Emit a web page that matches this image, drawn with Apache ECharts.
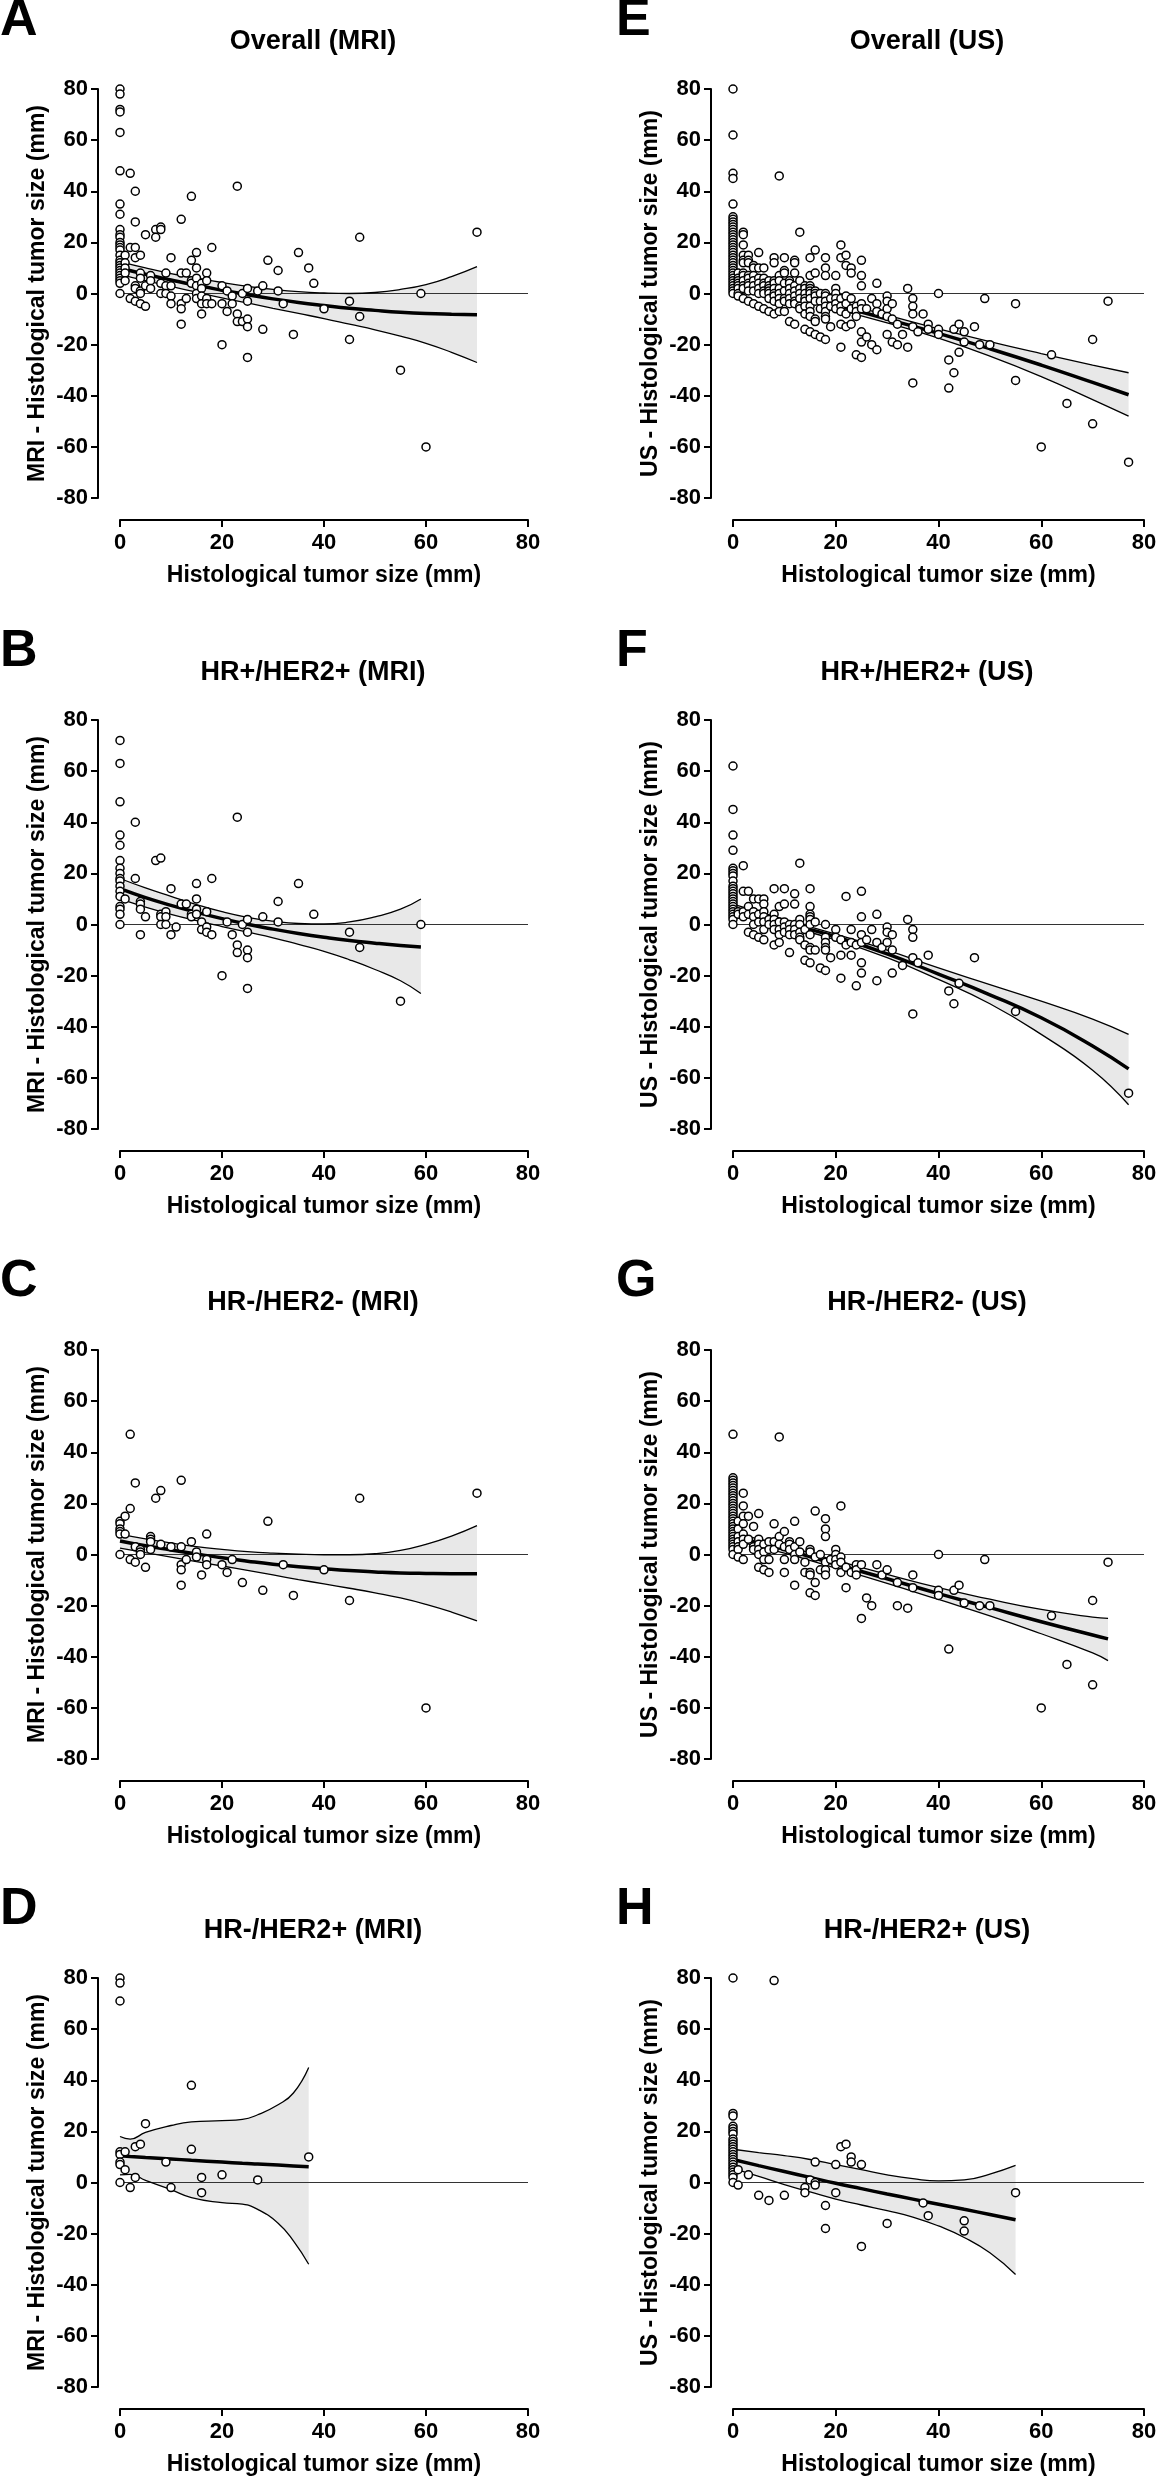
<!DOCTYPE html>
<html>
<head>
<meta charset="utf-8">
<title>Tumor size difference vs histological size</title>
<script src="https://cdn.jsdelivr.net/npm/echarts@6/dist/echarts.min.js"></script>
<style>
  html, body { margin: 0; padding: 0; background: #fff; }
  #chart { width: 1156px; height: 2481px; }
</style>
</head>
<body>
<div id="chart"></div>
<script>
// points: [histological size, [differences at that size]]
const ptsA = [[0,[80,78,72,71,63,48,35,31,25,23,22,20,19,18,17,15,13,12,11,10,9,8,7,6,5,4,0]],
  [1,[15,12,10,8,5]],[2,[47,18,-2]],[3,[40,28,18,14,3,2,-3]],[4,[15,8,6,1,0,-4]],[5,[23,3,-5]],
  [6,[7,5,2]],[7,[25,22]],[8,[26,25,4,0]],[9,[8,3,0]],[10,[14,3,-1,-4]],[12,[29,8,-4,-6,-12]],
  [13,[8,-2]],[14,[38,13,5,4]],[15,[16,10,6,3,0,-2]],[16,[4,2,-1,-4,-8]],[17,[8,5,-2,-4]],
  [18,[18,-4]],[20,[3,-4,-20]],[21,[1,-7]],[22,[-1,-4]],[23,[42,-8,-11]],[24,[0,-11]],
  [25,[2,-3,-10,-13,-25]],[27,[1]],[28,[3,-14]],[29,[13]],[31,[9,1]],[32,[-4]],[34,[-16]],
  [35,[16]],[37,[10]],[38,[4]],[40,[-6]],[45,[-3,-18]],[47,[22,-9]],[55,[-30]],[59,[0]],
  [60,[-60]],[70,[24]]];
const ptsB = [[0,[72,63,48,35,31,25,22,20,18,17,15,13,11,7,6,4,0]],
  [1,[10]],[3,[40,18]],[4,[9,8,6,-4]],[5,[3]],[7,[25]],[8,[26,4,3,0]],[9,[5,3,0]],[10,[14,-4]],
  [11,[-1]],[12,[8]],[13,[8]],[14,[4,3]],[15,[16,10,6,4]],[16,[1,-2]],[17,[5,-1,-3]],[18,[18,-4]],
  [20,[-20]],[21,[1]],[22,[-4]],[23,[42,-8,-11]],[24,[0]],[25,[2,-3,-10,-13,-25]],[28,[3]],
  [31,[9,1]],[35,[16]],[38,[4]],[45,[-3]],[47,[-9]],[55,[-30]],[59,[0]]];
const ptsC = [[0,[13,12,10,9,8,0]],[1,[15,8]],[2,[47,18,-2]],[3,[28,3,-3]],[4,[2,1,0]],[5,[-5]],
  [6,[7,6,5,2]],[7,[22]],[8,[25,4]],[10,[3]],[12,[29,3,-4,-6,-12]],[13,[-2]],[14,[5]],[15,[1,-1]],
  [16,[-8]],[17,[8,-2,-4]],[20,[-4]],[21,[-7]],[22,[-2]],[24,[-11]],[28,[-14]],[29,[13]],[32,[-4]],
  [34,[-16]],[40,[-6]],[45,[-18]],[47,[22]],[60,[-60]],[70,[24]]];
const ptsD = [[0,[80,78,71,12,11,8,7,0]],[1,[12,5]],[2,[-2]],[3,[14,2]],[4,[15]],[5,[23]],[9,[8]],
  [10,[-2]],[14,[38,13]],[16,[2,-4]],[20,[3]],[27,[1]],[37,[10]]];
const ptsE = [[0,[80,62,47,45,35,30,29,28,27,26,25,24,23,22,21,20,19,18,17,16,15,14,13,12,11,10,9,8,7,6,5,4,3,2,1,0]],
  [1,[8,6,5,4,3,2,0,-1]],[2,[24,23,19,15,13,12,8,7,5,3,2,-2]],[3,[15,13,12,7,6,4,3,1,-3]],
  [4,[11,10,7,5,3,1,-4]],[5,[16,10,6,4,2,0,-5]],[6,[10,6,4,3,1,0,-6]],[7,[5,3,2,1,0,-2,-7]],
  [8,[14,12,5,4,2,0,-1,-3,-8]],[9,[46,7,5,2,0,-2,-4,-7]],[10,[14,9,8,4,1,-2,-3,-7]],
  [11,[5,4,2,0,-2,-4,-11]],[12,[13,12,8,3,1,-1,-3,-4,-12]],[13,[24,5,2,0,-2,-5,-6]],
  [14,[3,2,0,-2,-3,-5,-8,-14]],[15,[14,7,3,2,1,0,-2,-5,-7,-9,-15]],[16,[17,8,1,0,-1,-3,-10,-11,-16]],
  [17,[0,-3,-6,-17]],[18,[14,10,7,0,-1,-3,-5,-7,-9,-10,-18]],[19,[-2,-5,-13]],[20,[7,2,0,-2,-4,-6]],
  [21,[19,14,-2,-5,-7,-12,-21]],[22,[15,11,-1,-4,-8,-13]],[23,[10,8,-2,-6,-12]],[24,[-5,-7,-9,-24]],
  [25,[13,7,3,-4,-6,-15,-19,-25]],[26,[-6,-17]],[27,[-2,-20]],[28,[4,-4,-7,-22]],[29,[-8]],
  [30,[-1,-3,-6,-9,-16]],[31,[-4,-10,-19]],[32,[-12,-20]],[33,[-16]],[34,[2,-21]],
  [35,[-2,-5,-8,-13,-35]],[36,[-15]],[37,[-8]],[38,[-12,-14]],[40,[0,-14,-16]],[42,[-26,-37]],
  [43,[-14,-31]],[44,[-12,-23]],[45,[-15,-19]],[47,[-13]],[48,[-20]],[49,[-2]],[50,[-20]],
  [55,[-4,-34]],[60,[-60]],[62,[-24]],[65,[-43]],[70,[-18,-51]],[73,[-3]],[77,[-66]]];
const ptsF = [[0,[62,45,35,29,22,21,20,19,17,15,14,13,12,11,10,9,8,7,6,5,4,3,2,0]],
  [1,[5,4]],[2,[23,13,5,3]],[3,[13,7,4,-3]],[4,[10,5,3,0,-4]],[5,[10,4,1,-5]],[6,[10,8,5,3,1,-2,-6]],
  [7,[2,0]],[8,[14,4,2,0,-2,-8]],[9,[7,1,-2,-4,-7]],[10,[14,8,1,-1,-3]],[11,[0,-2,-4,-11]],
  [12,[12,8,0,-2,-4]],[13,[24,2,0,-3,-5,-6]],[14,[-2,-8,-14]],[15,[14,7,4,3,2,0,-4,-9,-10,-15]],
  [16,[1,-10]],[17,[-17]],[18,[0,-5,-7,-9,-10,-18]],[19,[-13]],[20,[-2,-5]],[21,[-6,-12,-21]],
  [22,[11,-8]],[23,[-2,-7,-12]],[24,[-8,-24]],[25,[13,3,-4,-7,-15,-19]],[26,[-6]],[27,[-2]],
  [28,[4,-7,-22]],[29,[-9]],[30,[-1,-3,-7]],[31,[-4,-10,-19]],[33,[-16]],[34,[2]],
  [35,[-2,-5,-13,-35]],[36,[-15]],[38,[-12]],[42,[-26]],[43,[-31]],[44,[-23]],[47,[-13]],
  [55,[-34]],[77,[-66]]];
const ptsG = [[0,[47,30,29,28,27,26,25,24,23,22,21,20,19,18,17,16,15,14,13,12,11,10,9,8,7,6,5,4,3,2,0]],
  [1,[13,10,7,5,3,2,-1]],[2,[24,19,15,12,8,6,4,-2]],[3,[15,6]],[4,[11,3,2]],[5,[16,6,4,2,0,-5]],
  [6,[4,1,-2,-6]],[7,[5,2,-2,-7]],[8,[12,5,2]],[9,[46,7,4]],[10,[9,3,-2,-7]],[11,[5,4,2]],
  [12,[13,3,0,-2,-12]],[13,[5,1]],[14,[-3,-7]],[15,[2,1,-7,-8,-15]],[16,[17,-1,-11,-16]],
  [17,[0,-6]],[18,[14,10,7,-3,-6,-8]],[19,[-2]],[20,[2,0,-2,-4]],[21,[19,-1,-3,-7]],[22,[-5,-13]],
  [23,[-7]],[24,[-4,-6,-8]],[25,[-4,-25]],[26,[-17]],[27,[-20]],[28,[-4]],[29,[-8]],[30,[-6]],
  [32,[-11,-20]],[34,[-21]],[35,[-8,-13]],[40,[0,-14,-16]],[42,[-37]],[43,[-14]],[44,[-12]],
  [45,[-19]],[48,[-20]],[49,[-2]],[50,[-20]],[60,[-60]],[62,[-24]],[65,[-43]],[70,[-18,-51]],[73,[-3]]];
const ptsH = [[0,[80,27,26,22,21,20,19,17,16,15,14,13,12,11,10,9,8,7,6,5,4,3,2,0]],
  [1,[5,-1]],[3,[3]],[5,[-5]],[7,[-7]],[8,[79]],[10,[-5]],[14,[-2,-4]],[15,[1]],[16,[8,0,-1]],
  [18,[-9,-18]],[20,[7,-4]],[21,[14]],[22,[15]],[23,[10,8]],[25,[7,-25]],[30,[-16]],[37,[-8]],
  [38,[-13]],[45,[-15,-19]],[55,[-4]]];

// fitted curve with its confidence band
const curveXA = [0,5,10,15,20,25,30,35,40,45,50,55,60,65,70];
const fitA = [10,7.5,5.3,3.2,1.3,-0.5,-2.1,-3.5,-4.7,-5.8,-6.6,-7.3,-7.8,-8.1,-8.3];
const upA  = [12.5,10,7.8,6,4.3,2.8,1.6,0.7,0.2,0,0.4,1.6,3.5,6.6,10.5];
const loA  = [7.5,5,2.8,0.5,-1.7,-3.7,-5.8,-7.8,-9.8,-12,-14.2,-16.7,-19.5,-23,-27];

const curveXB = [0,5,10,15,20,25,30,35,40,45,50,55,59];
const fitB = [14,10.5,7.5,4.8,2.3,0.1,-1.8,-3.5,-5,-6.3,-7.3,-8.2,-8.8];
const upB  = [18,14.3,11,7.8,5,2.8,1.3,0.4,0.2,1,3,6,10];
const loB  = [10,6.8,4,1.5,-0.8,-3,-5.2,-7.8,-10.5,-13.8,-17.6,-22,-27];

const curveXC = [0,5,10,15,20,25,30,35,40,45,50,55,60,65,70];
const fitC = [5.3,3.4,1.8,0.2,-1.3,-2.6,-3.8,-4.8,-5.6,-6.3,-6.8,-7.2,-7.4,-7.5,-7.5];
const upC  = [8,6.1,4.5,3.1,2,1.1,0.5,0.1,-0.1,-0.1,0.3,1.6,4,7.2,11.3];
const loC  = [2.5,0.7,-1,-2.8,-4.5,-6.2,-8,-9.8,-11.5,-13.2,-15,-17,-19.5,-22.5,-26];

const curveXD = [0,2,5,10,14,20,24,27,31,34,37];
const fitD = [10.5,10.2,9.8,9.2,8.7,8,7.5,7.2,6.8,6.5,6.2];
const upD  = [18,17,19.6,22.3,23.7,24.2,24.7,26.5,30.4,35,45];
const loD  = [3,3.2,0.8,-2.8,-5.9,-7.9,-8.5,-10.5,-15.9,-22.8,-32];

const curveXE = [0,10,20,30,40,50,60,70,77];
const fitE = [7,1.5,-4.4,-10,-15.6,-21.6,-28,-34.8,-39.6];
const upE  = [9,3.5,-2.8,-8.5,-13.8,-18.8,-23.5,-28,-31];
const loE  = [5,-0.5,-6,-11.5,-17.5,-24.5,-32.5,-41.5,-48];

const curveXF = [0,10,20,30,40,50,60,70,77];
const fitF = [6.5,0.8,-4.8,-11.5,-19.4,-27.5,-36.5,-47.5,-56.5];
const upF  = [8,2,-3.8,-10,-17,-23.5,-30,-37,-43];
const loF  = [5,-0.4,-6,-13,-21.5,-31,-43,-57,-70.5];

const curveXG = [0,10,20,30,40,50,60,70,73];
const fitG = [7,2,-3.8,-9.5,-15.3,-20.8,-26.3,-31.5,-33];
const upG  = [8.5,3.5,-2.3,-7.8,-13,-17.5,-21.5,-24.5,-25];
const loG  = [5.5,0.5,-5.3,-11.3,-17.6,-24,-31,-38.5,-41.5];

const curveXH = [0,5,10,15,20,25,30,35,40,45,50,55];
const fitH = [9,6.6,4.3,2,-0.3,-2.4,-4.5,-6.5,-8.5,-10.5,-12.5,-14.6];
const upH  = [13,11.7,10.5,9,7,5,3,1.5,0.6,1,3.3,6.7];
const loH  = [5.5,2.4,-0.8,-3.7,-6.5,-8.8,-11,-13.5,-17,-21.5,-27.5,-36];

const xTicks = [0, 80, 20];   // min, max, interval
const yTicks = [-80, 80, 20];
const zeroLineX = [-4.3, 80]; // zero line starts at the y axis line

const panels = [
  { letter: 'A', title: 'Overall (MRI)',    col: 0, row: 0, pts: ptsA, cx: curveXA, fit: fitA, up: upA, lo: loA },
  { letter: 'B', title: 'HR+/HER2+ (MRI)',  col: 0, row: 1, pts: ptsB, cx: curveXB, fit: fitB, up: upB, lo: loB },
  { letter: 'C', title: 'HR-/HER2- (MRI)',  col: 0, row: 2, pts: ptsC, cx: curveXC, fit: fitC, up: upC, lo: loC },
  { letter: 'D', title: 'HR-/HER2+ (MRI)',  col: 0, row: 3, pts: ptsD, cx: curveXD, fit: fitD, up: upD, lo: loD },
  { letter: 'E', title: 'Overall (US)',     col: 1, row: 0, pts: ptsE, cx: curveXE, fit: fitE, up: upE, lo: loE },
  { letter: 'F', title: 'HR+/HER2+ (US)',   col: 1, row: 1, pts: ptsF, cx: curveXF, fit: fitF, up: upF, lo: loF },
  { letter: 'G', title: 'HR-/HER2- (US)',   col: 1, row: 2, pts: ptsG, cx: curveXG, fit: fitG, up: upG, lo: loG },
  { letter: 'H', title: 'HR-/HER2+ (US)',   col: 1, row: 3, pts: ptsH, cx: curveXH, fit: fitH, up: upH, lo: loH }
];

const FONT = "'Liberation Sans', Arial, Helvetica, sans-serif";
const rowTop = [89, 720, 1350, 1978];
const plotH = 409;
const colLeft = [120, 733];
const plotW = [408, 411];
const titleX = [313, 927];
const letterX = [0, 616];
const yNames = ['MRI - Histological tumor size (mm)', 'US - Histological tumor size (mm)'];

let myEchart = echarts.init(document.getElementById('chart'));

const grids = [], xAxes = [], yAxes = [], titles = [], series = [];

panels.forEach(function (p, i) {
  grids.push({
    left: colLeft[p.col], top: rowTop[p.row], width: plotW[p.col], height: plotH,
    containLabel: false, outerBoundsMode: 'none'
  });

  const axisLine = { show: true, onZero: false, lineStyle: { color: '#000', width: 2 } };
  const axisTick = { show: true, length: 7, lineStyle: { color: '#000', width: 2 } };
  const label = { color: '#000', fontSize: 22, fontWeight: 'bold', fontFamily: FONT };
  const nameStyle = { color: '#000', fontSize: 23, fontWeight: 'bold', fontFamily: FONT };

  xAxes.push({
    gridIndex: i, type: 'value', min: xTicks[0], max: xTicks[1], interval: xTicks[2],
    offset: 22, axisLine: axisLine, axisTick: axisTick,
    axisLabel: Object.assign({ margin: 12 }, label),
    splitLine: { show: false },
    name: 'Histological tumor size (mm)', nameLocation: 'middle', nameGap: 44,
    nameTextStyle: nameStyle
  });
  yAxes.push({
    gridIndex: i, type: 'value', min: yTicks[0], max: yTicks[1], interval: yTicks[2],
    offset: 22, axisLine: axisLine, axisTick: axisTick,
    axisLabel: Object.assign({ margin: 10 }, label),
    splitLine: { show: false },
    name: yNames[p.col], nameLocation: 'middle', nameGap: 49, nameRotate: 90,
    nameTextStyle: nameStyle
  });

  // panel title and letter
  titles.push({
    text: p.title, left: titleX[p.col], top: rowTop[p.row] - 47, padding: 0,
    textAlign: 'center', textVerticalAlign: 'middle',
    textStyle: { color: '#000', fontSize: 27, fontWeight: 'bold', fontFamily: FONT }
  });
  titles.push({
    text: p.letter, left: letterX[p.col], top: rowTop[p.row] - 68, padding: 0,
    textAlign: 'left', textVerticalAlign: 'middle',
    textStyle: { color: '#000', fontSize: 52, fontWeight: 'bold', fontFamily: FONT }
  });

  // confidence band fill
  series.push({
    type: 'custom', xAxisIndex: i, yAxisIndex: i, silent: true, z: 1,
    data: [[0, 0]],
    renderItem: function (params, api) {
      const poly = [];
      for (let k = 0; k < p.cx.length; k++) poly.push(api.coord([p.cx[k], p.up[k]]));
      for (let k = p.cx.length - 1; k >= 0; k--) poly.push(api.coord([p.cx[k], p.lo[k]]));
      return { type: 'polygon', shape: { points: poly }, style: { fill: '#e8e8e8' } };
    }
  });

  // zero line
  series.push({
    type: 'line', xAxisIndex: i, yAxisIndex: i, silent: true, z: 2, clip: false,
    symbol: 'none', data: zeroLineX.map(function (x) { return [x, 0]; }),
    lineStyle: { color: '#333', width: 1 }
  });

  // band edges
  [p.up, p.lo].forEach(function (edge) {
    series.push({
      type: 'line', xAxisIndex: i, yAxisIndex: i, silent: true, z: 3, smooth: true,
      symbol: 'none', data: p.cx.map(function (x, k) { return [x, edge[k]]; }),
      lineStyle: { color: '#000', width: 1.3 }
    });
  });

  // fitted curve
  series.push({
    type: 'line', xAxisIndex: i, yAxisIndex: i, silent: true, z: 4, smooth: true,
    symbol: 'none', data: p.cx.map(function (x, k) { return [x, p.fit[k]]; }),
    lineStyle: { color: '#000', width: 3.5 }
  });

  // individual patients
  const dots = [];
  p.pts.forEach(function (col) {
    col[1].forEach(function (y) { dots.push([col[0], y]); });
  });
  series.push({
    type: 'scatter', xAxisIndex: i, yAxisIndex: i, z: 5,
    symbol: 'circle', symbolSize: 8, data: dots,
    itemStyle: { color: '#fff', borderColor: '#000', borderWidth: 1.5, opacity: 1 }
  });
});

let option = {
  animation: false,
  backgroundColor: '#fff',
  title: titles,
  grid: grids,
  xAxis: xAxes,
  yAxis: yAxes,
  series: series
};

myEchart.setOption(option);
</script>
</body>
</html>
